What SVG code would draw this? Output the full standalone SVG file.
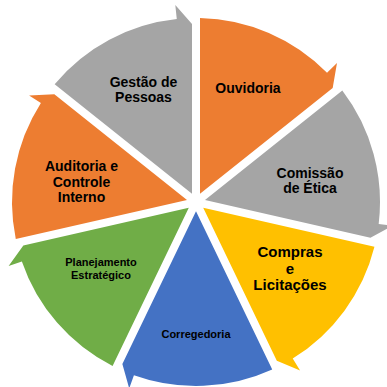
<svg xmlns="http://www.w3.org/2000/svg" width="387" height="387" viewBox="0 0 387 387">
<style>
.t{font-family:"Liberation Sans",Arial,sans-serif;font-weight:bold;fill:#000;text-anchor:middle}
.l{font-size:14px}
.m{font-size:15px}
.s{font-size:11px}
</style>
<rect width="387" height="387" fill="#fff"/>
<g id="connectors"></g>
<g id="ouvidoria">
<path d="M200,193.69 L200,18.04 A184,184 0 0 1 327.02,72.81 L336.99,62.98 L332.68,87.89 Z" fill="#ED7D31"/>
<text class="t l" x="248" y="93">Ouvidoria</text>
</g>
<g id="comissao">
<path d="M204.99,199.95 L342.31,90.44 A184,184 0 0 1 378.68,223.97 L392.58,225.64 L370.43,237.71 Z" fill="#A5A5A5"/>
<text class="t l" x="310" y="178">Comissão</text>
<text class="t l" x="310" y="193">de Ética</text>
</g>
<g id="compras">
<path d="M203.21,207.75 L374.45,246.83 A184,184 0 0 1 292.73,358.52 L300.09,370.43 L276.83,360.63 Z" fill="#FFC000"/>
<text class="t m" x="290" y="257">Compras</text>
<text class="t m" x="290" y="274">e</text>
<text class="t m" x="290" y="290">Licitações</text>
</g>
<g id="corregedoria">
<path d="M196,211.22 L272.22,369.48 A184,184 0 0 1 133.93,375.22 L129.21,388.4 L122.37,364.11 Z" fill="#4472C4"/>
<text class="t s" x="196" y="338">Corregedoria</text>
</g>
<g id="planejamento">
<path d="M188.79,207.75 L112.58,366 A184,184 0 0 1 21.87,261.47 L8.62,266 L23.35,245.51 Z" fill="#70AD47"/>
<text class="t s" x="101" y="266">Planejamento</text>
<text class="t s" x="101" y="279">Estratégico</text>
</g>
<g id="auditoria">
<path d="M187.01,199.95 L15.77,239.03 A184,184 0 0 1 40.9,103.01 L29.1,95.48 L54.34,94.15 Z" fill="#ED7D31"/>
<text class="t l" x="81.5" y="171">Auditoria e</text>
<text class="t l" x="81.5" y="186.5">Controle</text>
<text class="t l" x="81.5" y="202">Interno</text>
</g>
<g id="gestao">
<path d="M192,193.69 L54.67,84.18 A184,184 0 0 1 176.77,19.01 L175.3,5.08 L192,24 Z" fill="#A5A5A5"/>
<text class="t l" x="143.5" y="87">Gestão de</text>
<text class="t l" x="143.5" y="102">Pessoas</text>
</g>
</svg>
